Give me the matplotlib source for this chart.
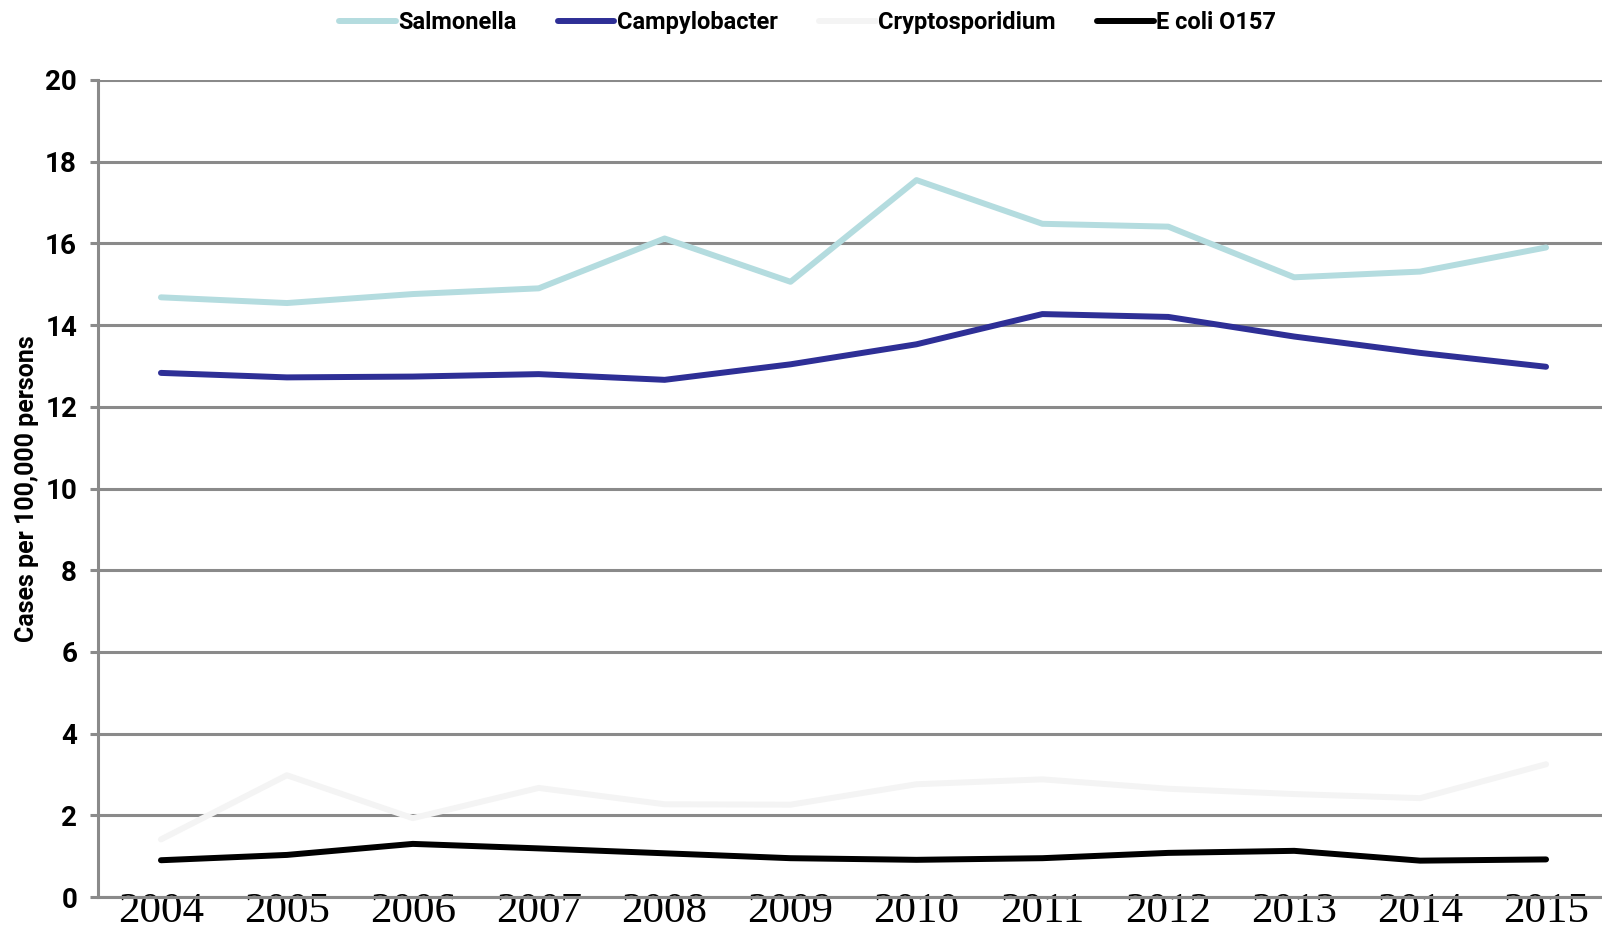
"""
Rates of selected enteric infections, 2004-2015
"""

import matplotlib
matplotlib.use('Agg')
import matplotlib.pyplot as plt
import numpy

years        = ['2004', '2005', '2006', '2007', '2008', '2009',
                '2010', '2011', '2012', '2013', '2014', '2015']
salmonella   = [14.68, 14.54, 14.76, 14.90, 16.12, 15.06,
                17.55, 16.48, 16.41, 15.17, 15.31, 15.90]
campylobacter = [12.83, 12.72, 12.74, 12.80, 12.66, 13.04,
                 13.53, 14.27, 14.20, 13.72, 13.32, 12.98]
cryptosporidium = [1.41, 2.98, 1.93, 2.67, 2.27, 2.26,
                   2.76, 2.88, 2.65, 2.52, 2.42, 3.25]
ecoli        = [0.90, 1.03, 1.30, 1.19, 1.07, 0.95,
                0.91, 0.95, 1.08, 1.13, 0.89, 0.92]

series = [
    ('Salmonella',      salmonella,      '#b4dcdf'),
    ('Campylobacter',   campylobacter,   '#2e2f96'),
    ('Cryptosporidium', cryptosporidium, '#f4f4f4'),
    ('E coli O157',     ecoli,           '#000000'),
]

grid_gray = '#8a8a8a'
bold_family = ['Roboto', 'DejaVu Sans']

fig = plt.figure(figsize=(16.02, 9.32), dpi=100)
ax = fig.add_axes([98 / 1602, 35 / 932, 1511 / 1602, 817 / 932])

x = numpy.arange(len(years))
for name, values, color in series:
    ax.plot(x, values, color=color, linewidth=4.3, label=name,
            solid_capstyle='round', solid_joinstyle='round', zorder=3)

ax.set_xlim(-0.5, len(years) - 0.5)
ax.set_ylim(0, 20)
ax.set_yticks(numpy.arange(0, 21, 2))
ax.set_xticks(x)
ax.set_xticklabels(years, family=['Liberation Serif', 'DejaVu Serif'], fontsize=31)

ax.grid(axis='y', color=grid_gray, linewidth=2.2, zorder=1)
ax.set_axisbelow(True)
for side in ('top', 'right'):
    ax.spines[side].set_visible(False)
for side in ('left', 'bottom'):
    ax.spines[side].set_color(grid_gray)
    ax.spines[side].set_linewidth(2.2)

ax.tick_params(axis='y', length=6, width=2.2, color=grid_gray, pad=9)
ax.tick_params(axis='x', length=0, pad=-3)
for label in ax.get_yticklabels():
    label.set_family(bold_family)
    label.set_fontweight('bold')
    label.set_fontsize(20)

ax.set_ylabel('Cases per 100,000 persons', family=bold_family,
              fontweight='bold', fontsize=18)
ax.yaxis.set_label_coords(-0.039, 0.5)

fig.legend(loc='center', bbox_to_anchor=(0.504, 0.976), ncol=4, frameon=False,
           handlelength=2.4, handletextpad=0.1, columnspacing=1.75,
           prop={'family': bold_family, 'weight': 'bold', 'size': 17})

fig.savefig('out.png', dpi=100)
